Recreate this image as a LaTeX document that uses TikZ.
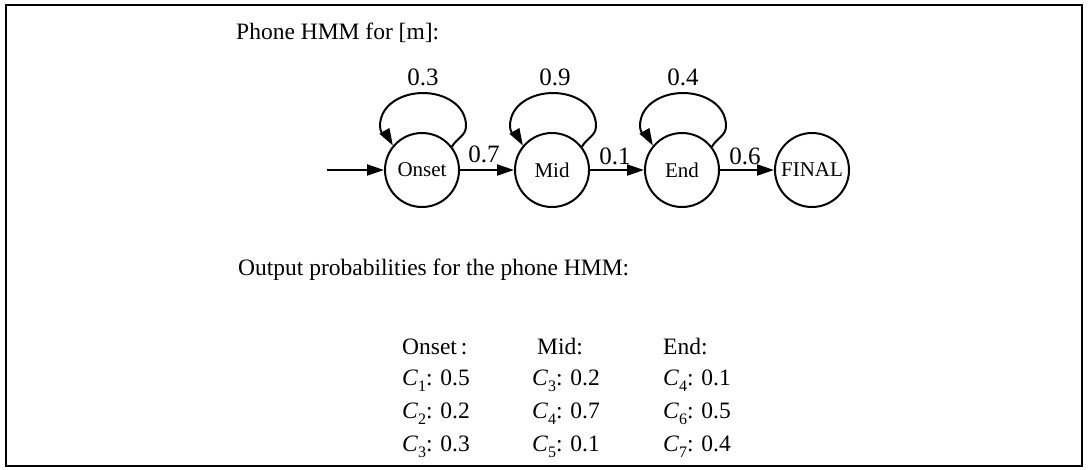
\documentclass[tikz,border=0pt]{standalone}
\usepackage{fontspec}
\setmainfont{Liberation Serif}
\usetikzlibrary{arrows.meta}
\newcommand{\Csub}[1]{\textit{C}\raisebox{-0.25em}{\fontsize{16}{16}\selectfont #1}}
\begin{document}
\begin{tikzpicture}[x=1pt,y=-1pt,
  st/.style={draw,circle,line width=2pt,minimum size=74pt,inner sep=0pt,font=\fontsize{21}{24}\selectfont},
  arr/.style={line width=2pt,-{Triangle[length=17pt,width=11pt]}},
  lbl/.style={font=\fontsize{25}{28}\selectfont,inner sep=0pt},
  txt/.style={font=\fontsize{23.5}{28}\selectfont,inner sep=0pt,anchor=west},
]
\useasboundingbox (0,0) rectangle (1089,469);
\draw[line width=2.6pt] (6,5) rectangle (1082,466);
\node[txt] (t1) at (236,33) {Phone HMM for [m]:};
\node[st] (o) at (422,170) {Onset};
\node[st] (m) at (552,170) {Mid};
\node[st] (e) at (682,170) {End};
\node[st] (f) at (812,170) {FINAL};
\coordinate (s) at (327,170);
\draw[arr] (s) -- (o);
\draw[arr] (o) -- (m);
\draw[arr] (m) -- (e);
\draw[arr] (e) -- (f);
\foreach \n in {o,m,e}{
  \draw[arr] (\n.38) to[out=60,in=-90] ([shift={(44pt,44pt)}]\n.center)
    to[out=90,in=0] ([shift={(1pt,77pt)}]\n.center)
    to[out=180,in=90] ([shift={(-42pt,44pt)}]\n.center)
    to[out=-90,in=120] (\n.140);
}
\node[lbl] (l1) at (423,77) {0.3};
\node[lbl] (l2) at (555,77) {0.9};
\node[lbl] (l3) at (683,77) {0.4};
\node[lbl] (l4) at (484,154) {0.7};
\node[lbl] (l5) at (615,156) {0.1};
\node[lbl] (l6) at (745,156) {0.6};
\node[txt] (t2) at (238,270) {Output probabilities for the phone HMM:};
\node[txt] (h1) at (402,347) {Onset\,:};
\node[txt] (h2) at (537,347) {Mid:};
\node[txt] (h3) at (663,347) {End:};
\node[txt] (a1) at (402,381) {\Csub{1}: 0.5};
\node[txt] (a2) at (402,414) {\Csub{2}: 0.2};
\node[txt] (a3) at (402,447) {\Csub{3}: 0.3};
\node[txt] (b1) at (532,381) {\Csub{3}: 0.2};
\node[txt] (b2) at (532,414) {\Csub{4}: 0.7};
\node[txt] (b3) at (532,447) {\Csub{5}: 0.1};
\node[txt] (c1) at (663,381) {\Csub{4}: 0.1};
\node[txt] (c2) at (663,414) {\Csub{6}: 0.5};
\node[txt] (c3) at (663,447) {\Csub{7}: 0.4};
\end{tikzpicture}
\end{document}
